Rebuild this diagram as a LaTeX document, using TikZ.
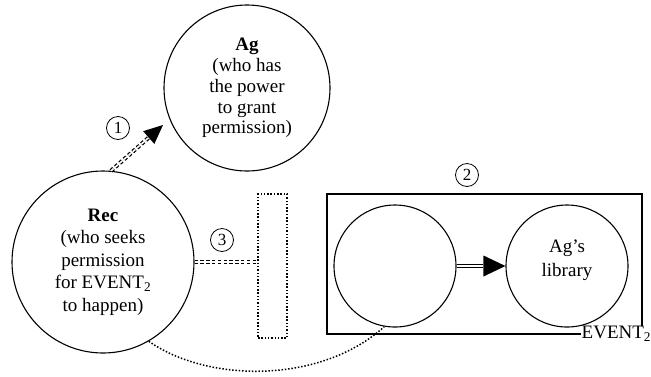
\documentclass[tikz,border=0pt]{standalone}
\usepackage{fontspec}
\setmainfont{Liberation Serif}
\usetikzlibrary{calc}
\tikzset{
  bubble/.style={circle, draw, line width=1.1pt, inner sep=0pt, align=center},
  numcirc/.style={circle, draw, line width=0.8pt, inner sep=0pt,
    minimum size=23pt, font=\fontsize{17}{17}\selectfont},
  dbldash/.style={double, double distance=1.6pt, line width=1.2pt,
    dash pattern=on 3.4pt off 2.4pt},
  dblline/.style={double, double distance=1.5pt, line width=1.3pt},
  dotline/.style={line width=1.5pt, dash pattern=on 1.5pt off 1.8pt},
}
\begin{document}
\begin{tikzpicture}[x=1pt, y=-1pt]
\useasboundingbox (0,0) rectangle (651,376);

% the two parties
\node[bubble, minimum size=166pt, font=\fontsize{19}{20.8}\selectfont] (ag) at (247,88)
  {\textbf{Ag}\\(who has\\the power\\to grant\\permission)};
\node[bubble, minimum size=182pt, font=\fontsize{19}{22.6}\selectfont] (rec) at (103,262)
  {\textbf{Rec}\\(who seeks\\permission\\for EVENT\textsubscript{2}\\to happen)};

% step 1: request addressed to Ag
\coordinate (tip1) at (163,125);
\coordinate (base1) at ($(tip1)!19pt!(rec.85)$);
\draw[dbldash] (rec.85) -- (base1);
\fill (tip1) -- ($(base1)!8.5pt!90:(tip1)$) -- ($(base1)!8.5pt!-90:(tip1)$) -- cycle;
\node[numcirc] (n1) at (118,128) {1};

% the event box
\node[draw, line width=1.4pt, minimum width=315pt, minimum height=140pt,
  inner sep=0pt] (box) at (484.5,264) {};
\node[anchor=west, fill=white, inner sep=0.5pt,
  font=\fontsize{19}{19}\selectfont] (ev) at (581,334) {EVENT\textsubscript{2}};
\node[bubble, minimum size=122pt] (lc) at (395,266) {};
\node[bubble, minimum size=122pt] (rc) at (567,266) {};
\node[align=center, font=\fontsize{19}{24}\selectfont] (lib) at (567,260)
  {Ag’s\\library};
\coordinate (base2) at ($(rc.west)!22pt!(lc.east)$);
\draw[dblline] (lc.east) -- (base2);
\fill (rc.west) -- ($(base2)!10.5pt!90:(rc.west)$) -- ($(base2)!10.5pt!-90:(rc.west)$) -- cycle;
\node[numcirc] (n2) at (467,175) {2};

% step 3: the slot
\node[draw, dotline, minimum width=29pt, minimum height=144pt, inner sep=0pt]
  (slot) at (272.5,266) {};
\draw[dbldash] (rec.east) -- (rec.east -| slot.west);
\node[numcirc] (n3) at (222,240) {3};

% link between Rec and the event's first participant
\draw[dotline] (rec.-60) .. controls +(60,42) and +(-63,57) .. (lc.-100);
\end{tikzpicture}
\end{document}
